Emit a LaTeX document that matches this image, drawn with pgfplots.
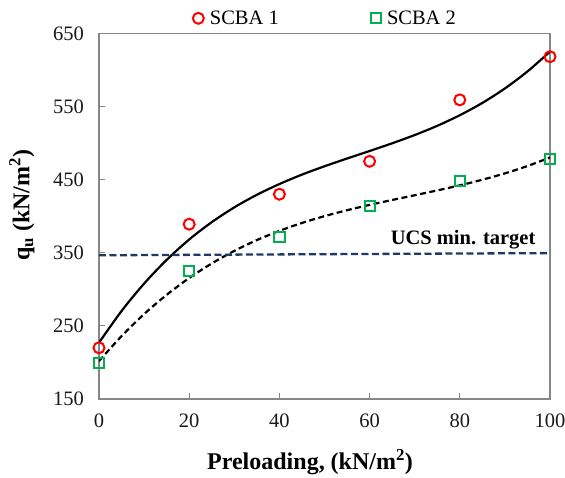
\documentclass[border=0pt]{standalone}
\usepackage{fontspec}
\setmainfont{Liberation Serif}
\usepackage{pgfplots}
\pgfplotsset{compat=1.18}
\definecolor{axgray}{RGB}{134,134,134}
\definecolor{mred}{RGB}{255,0,0}
\definecolor{mgreen}{RGB}{0,176,80}
\definecolor{navyline}{RGB}{31,56,100}
\begin{document}
\begin{tikzpicture}
\begin{axis}[
  scale only axis, width=451pt, height=365.7pt,
  xmin=0, xmax=100, ymin=150, ymax=650,
  xtick={0,20,...,100}, ytick={150,250,...,650},
  tick align=inside, tick pos=left, major tick length=6pt,
  axis line style={axgray, line width=1.2pt},
  tick style={axgray, line width=1.2pt},
  /pgf/number format/assume math mode=true,
  ticklabel style={font=\fontsize{20.5}{24}\selectfont, text=black!90},
  yticklabel style={xshift=-11.5pt},
  xticklabel style={yshift=-10.9pt},
  xlabel={\textbf{Preloading, (kN/m\textsuperscript{2})}},
  ylabel={\textbf{q\textsubscript{u} (kN/m\textsuperscript{2})}},
  xlabel style={at={(axis description cs:0.468,-0.172)}, anchor=center, font=\fontsize{24}{28}\selectfont},
  ylabel style={at={(axis description cs:-0.171,0.53)}, anchor=center, font=\fontsize{24}{28}\selectfont},
  legend image code/.code={\draw[#1] plot coordinates {(0pt,0pt)};},
  legend style={at={(axis description cs:0.502,1.041)}, anchor=center, draw=none, fill=none,
    font=\fontsize{20.5}{24}\selectfont, legend columns=2,
    /tikz/every odd column/.append style={column sep=4pt},
    /tikz/every even column/.append style={column sep=90pt}},
]
\addplot[only marks, mark=o, mark size=5.5pt, mark options={draw=mred, line width=2pt}]
  coordinates {(0,220) (20,389) (40,430) (60,475) (80,559) (100,618)};
\addlegendentry{SCBA 1}
\addplot[only marks, mark=square, mark size=5.1pt, mark options={draw=mgreen, line width=2pt}]
  coordinates {(0,199) (20,325) (40,371) (60,414) (80,448) (100,478)};
\addlegendentry{SCBA 2}
% polynomial trend lines
\addplot[forget plot, smooth, black, line width=2.2pt] coordinates {
(0,227.0) (5,270.3) (10,307.8) (15,340.2) (20,368.1) (25,391.8) (30,412.0)
(35,429.2) (40,443.9) (45,456.8) (50,468.2) (55,478.8) (60,489.1) (65,499.6)
(70,510.9) (75,523.5) (80,538.0) (85,554.8) (90,574.6) (95,597.8) (100,625.0)};
\addplot[forget plot, smooth, black, line width=2.2pt, dash pattern=on 6pt off 3.5pt] coordinates {
(0,201.9) (5,236.0) (10,266.1) (15,292.4) (20,315.4) (25,335.3) (30,352.5)
(35,367.3) (40,379.9) (45,390.7) (50,400.0) (55,408.1) (60,415.4) (65,422.1)
(70,428.6) (75,435.2) (80,442.1) (85,449.8) (90,458.5) (95,468.5) (100,480.2)};
\addplot[forget plot, navyline, line width=2.3pt, dash pattern=on 7pt off 3.5pt] coordinates {(0,346.5) (100,349.5)};
\node[anchor=base east, inner sep=0pt, font=\bfseries\fontsize{20.5}{24}\selectfont] at (axis cs:96.8,361.5) {UCS min. target};
\coordinate (O) at (rel axis cs:0,0);
\end{axis}
\pgfresetboundingbox
\path ([shift={(-99pt,-78pt)}]O) rectangle ([shift={(466pt,399pt)}]O);
\end{tikzpicture}
\end{document}
